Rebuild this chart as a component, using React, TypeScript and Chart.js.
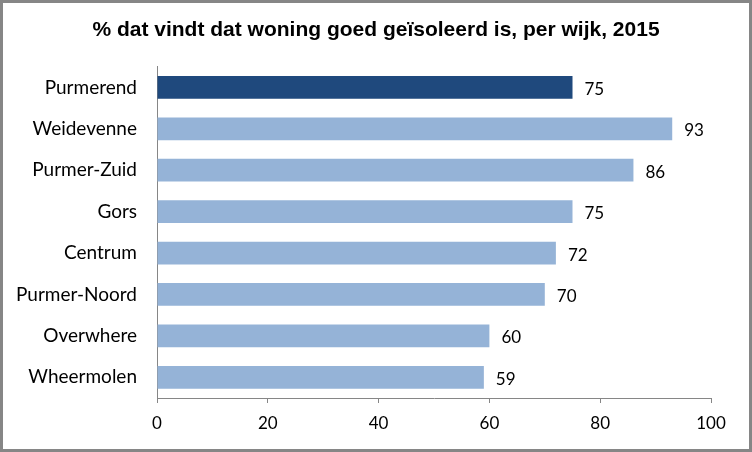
import React, { useEffect, useRef } from "react";
import { Chart, registerables } from "chart.js";

Chart.register(...registerables);

const categories = ["Purmerend", "Weidevenne", "Purmer-Zuid", "Gors", "Centrum", "Purmer-Noord", "Overwhere", "Wheermolen"];
const values = [75, 93, 86, 75, 72, 70, 60, 59];
const barColors = ["#1F497D", "#95B3D7", "#95B3D7", "#95B3D7", "#95B3D7", "#95B3D7", "#95B3D7", "#95B3D7"];
const titleText = "% dat vindt dat woning goed geïsoleerd is, per wijk, 2015";

const LABEL_FONT = "17px Lato, 'Open Sans', sans-serif";

const valueLabels = {
  id: "valueLabels",
  afterDatasetsDraw(chart: any) {
    const ctx = chart.ctx;
    const meta = chart.getDatasetMeta(0);
    ctx.save();
    ctx.font = LABEL_FONT;
    ctx.fillStyle = "#000";
    ctx.textAlign = "left";
    ctx.textBaseline = "middle";
    meta.data.forEach((el: any, i: number) => {
      ctx.fillText(String(values[i]), el.x + 12, el.y + 2);
    });
    ctx.restore();
  },
};

const centeredTitle = {
  id: "centeredTitle",
  afterDraw(chart: any) {
    const ctx = chart.ctx;
    ctx.save();
    ctx.font = "bold 21px 'Liberation Sans', Arial, sans-serif";
    ctx.fillStyle = "#000";
    ctx.textAlign = "center";
    ctx.textBaseline = "middle";
    ctx.fillText(titleText, chart.width / 2, 30);
    ctx.restore();
  },
};

export default function App() {
  const ref = useRef<HTMLCanvasElement>(null);
  useEffect(() => {
    const chart = new Chart(ref.current!, {
      type: "bar",
      data: {
        labels: categories,
        datasets: [
          {
            data: values,
            backgroundColor: barColors,
            categoryPercentage: 1,
            barPercentage: 0.55,
          },
        ],
      },
      options: {
        indexAxis: "y",
        animation: false,
        responsive: false,
        maintainAspectRatio: false,
        layout: { padding: { left: 0, right: 41, top: 66.7, bottom: 14 } },
        plugins: {
          legend: { display: false },
          tooltip: { enabled: false },
          title: { display: false },
        },
        scales: {
          x: {
            min: 0,
            max: 100,
            ticks: { stepSize: 20, color: "#000", font: { family: "Lato, 'Open Sans', sans-serif", size: 17 }, padding: 10, maxRotation: 0 },
            grid: { drawOnChartArea: false, drawTicks: true, tickLength: 5, color: "#868686" },
            border: { display: true, color: "#868686", width: 1 },
            afterFit: (s: any) => { s.height = 40; },
          },
          y: {
            ticks: { color: "#000", font: { family: "Lato, 'Open Sans', sans-serif", size: 19 }, padding: 20 },
            grid: { display: false, drawTicks: false },
            border: { display: true, color: "#868686", width: 1 },
            afterFit: (s: any) => { s.width = 157; },
          },
        },
      },
      plugins: [valueLabels, centeredTitle],
    });
    return () => chart.destroy();
  }, []);
  return (
    <div style={{ position: "fixed", left: 0, top: 0, width: 752, height: 452, background: "#fff" }}>
      <canvas ref={ref} width={752} height={452} style={{ position: "absolute", left: 0, top: 0, width: 752, height: 452 }} />
      <div style={{ position: "absolute", left: 0, top: 0, width: 752, height: 452, boxSizing: "border-box", border: "3px solid #868686", pointerEvents: "none" }} />
    </div>
  );
}
